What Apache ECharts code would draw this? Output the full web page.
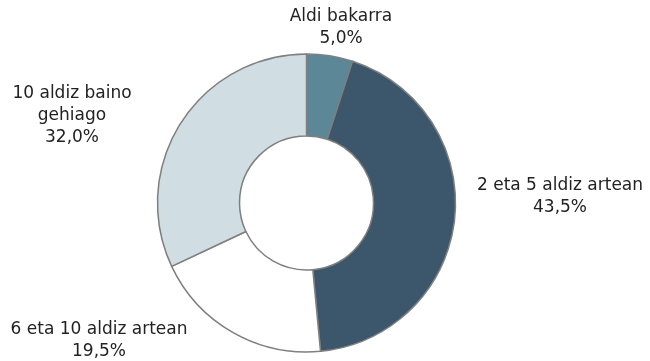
<!DOCTYPE html>
<html>
<head>
<meta charset="utf-8">
<script src="https://cdn.jsdelivr.net/npm/echarts@6/dist/echarts.min.js"></script>
<style>
  html, body { margin: 0; padding: 0; background: #ffffff; }
  #chart { width: 650px; height: 361px; }
</style>
</head>
<body>
<div id="chart"></div>
<script>
// Maiztasun kategoriak eta ehunekoak
const categories = [
  'Aldi bakarra',
  '2 eta 5 aldiz artean',
  '6 eta 10 aldiz artean',
  '10 aldiz baino\ngehiago'
];
const values = [5.0, 43.5, 19.5, 32.0];

const sliceColors = ['#5b8797', '#3c566b', '#ffffff', '#d0dde3'];
// Etiketen erdiguneak (px)
const labelCenters = [[341, 28], [560, 197], [99, 341], [72, 116]];

const fmt = v => v.toFixed(1).replace('.', ',') + '%';

const chart = echarts.init(document.getElementById('chart'), null, { renderer: 'canvas' });

chart.setOption({
  backgroundColor: '#ffffff',
  animation: false,
  series: [{
    type: 'pie',
    center: [306.5, 203],
    radius: [67, 149],
    startAngle: 90,
    clockwise: true,
    avoidLabelOverlap: false,
    data: categories.map((name, i) => ({
      name: name,
      value: values[i],
      itemStyle: { color: sliceColors[i] }
    })),
    itemStyle: { borderColor: '#7f7f7f', borderWidth: 1.5 },
    label: {
      show: true,
      position: 'outside',
      formatter: p => p.name + '\n' + fmt(p.value),
      fontFamily: '"DejaVu Sans", sans-serif',
      fontSize: 17,
      lineHeight: 22,
      color: '#222222',
      align: 'center'
    },
    labelLine: { show: false },
    labelLayout: params => ({
      x: labelCenters[params.dataIndex][0],
      y: labelCenters[params.dataIndex][1],
      align: 'center',
      verticalAlign: 'middle'
    }),
    emphasis: { disabled: true }
  }]
});
</script>
</body>
</html>
